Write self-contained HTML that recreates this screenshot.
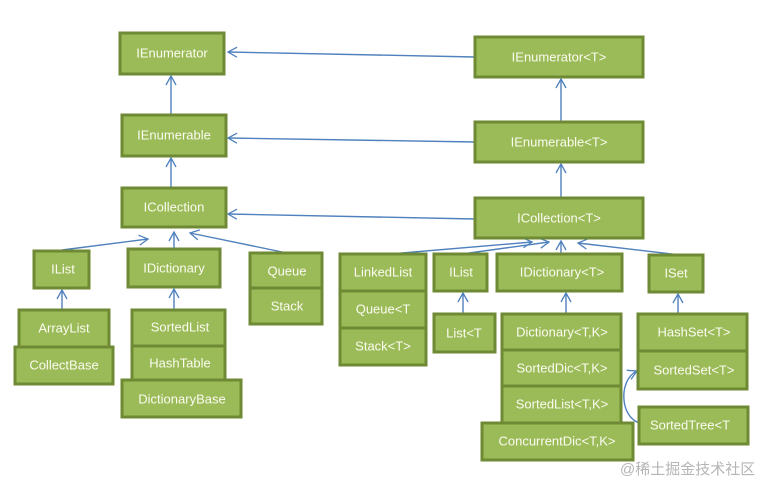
<!DOCTYPE html>
<html><head><meta charset="utf-8"><style>
html,body{margin:0;padding:0;background:#fff;}
svg text{font-family:"Liberation Sans","Noto Sans CJK SC",sans-serif;font-size:13px;fill:#fbfbef;}
</style></head><body>
<svg width="782" height="496" viewBox="0 0 782 496" xmlns="http://www.w3.org/2000/svg">
<defs>
<marker id="a" markerWidth="12" markerHeight="12" refX="10" refY="6" orient="auto" markerUnits="userSpaceOnUse">
<path d="M1,1 L10,6 L1,11" fill="none" stroke="#4f81bd" stroke-width="1.3"/>
</marker>
</defs>
<g stroke="#4f81bd" stroke-width="1.4" fill="none" marker-end="url(#a)">
<line x1="475" y1="57" x2="228" y2="52"/>
<line x1="475" y1="142" x2="228" y2="138"/>
<line x1="475" y1="219" x2="228" y2="214"/>
<line x1="171" y1="115" x2="171" y2="76"/>
<line x1="171" y1="188" x2="171" y2="158"/>
<line x1="561" y1="122" x2="561" y2="79"/>
<line x1="561" y1="198" x2="561" y2="164"/>
<line x1="62" y1="250" x2="148" y2="239"/>
<line x1="174" y1="249" x2="174" y2="232"/>
<line x1="287" y1="253" x2="190" y2="233"/>
<line x1="390" y1="254" x2="532" y2="242"/>
<line x1="462" y1="254" x2="549" y2="242"/>
<line x1="561" y1="254" x2="561" y2="241"/>
<line x1="680" y1="255" x2="578" y2="243"/>
<line x1="62" y1="310" x2="62" y2="290"/>
<line x1="174" y1="310" x2="174" y2="289"/>
<line x1="463" y1="314" x2="463" y2="293"/>
<line x1="566" y1="314" x2="566" y2="293"/>
<line x1="678" y1="314" x2="678" y2="294"/>
<path d="M640,423 C620,418 618,380 637,371"/>
</g>
<g fill="#9bbb59" stroke="#6f8a35" stroke-width="3">
<rect x="120" y="33" width="104" height="41"/>
<rect x="122" y="115" width="104" height="41"/>
<rect x="122" y="188" width="104" height="39"/>
<rect x="475" y="37" width="168" height="40"/>
<rect x="475" y="122" width="168" height="40"/>
<rect x="475" y="198" width="168" height="40"/>
<rect x="34" y="251" width="55" height="37"/>
<rect x="128" y="249" width="92" height="38"/>
<rect x="250" y="253" width="72" height="35"/>
<rect x="250" y="288" width="72" height="36"/>
<rect x="19" y="310" width="90" height="37"/>
<rect x="15" y="347" width="98" height="37"/>
<rect x="132" y="310" width="93" height="36"/>
<rect x="132" y="346" width="93" height="34"/>
<rect x="122" y="380" width="119" height="37"/>
<rect x="340" y="254" width="86" height="37"/>
<rect x="340" y="291" width="86" height="37"/>
<rect x="340" y="328" width="86" height="37"/>
<rect x="434" y="254" width="53" height="37"/>
<rect x="434" y="314" width="61" height="38"/>
<rect x="497" y="254" width="125" height="37"/>
<rect x="502" y="314" width="119" height="36"/>
<rect x="502" y="350" width="119" height="36"/>
<rect x="502" y="386" width="119" height="37"/>
<rect x="482" y="423" width="151" height="37"/>
<rect x="649" y="255" width="54" height="37"/>
<rect x="638" y="314" width="109" height="37"/>
<rect x="638" y="351" width="109" height="38"/>
<rect x="639" y="407" width="109" height="37"/>
</g>
<g text-anchor="middle" dominant-baseline="central">
<text x="172" y="53">IEnumerator</text>
<text x="174" y="135">IEnumerable</text>
<text x="174" y="207">ICollection</text>
<text x="559" y="57">IEnumerator&lt;T&gt;</text>
<text x="559" y="142">IEnumerable&lt;T&gt;</text>
<text x="559" y="218">ICollection&lt;T&gt;</text>
<text x="63" y="269">IList</text>
<text x="174" y="268">IDictionary</text>
<text x="287" y="271">Queue</text>
<text x="287" y="306">Stack</text>
<text x="64" y="328">ArrayList</text>
<text x="64" y="365">CollectBase</text>
<text x="180" y="327">SortedList</text>
<text x="180" y="363">HashTable</text>
<text x="182" y="399">DictionaryBase</text>
<text x="383" y="272">LinkedList</text>
<text x="383" y="309">Queue&lt;T</text>
<text x="383" y="346">Stack&lt;T&gt;</text>
<text x="461" y="272">IList</text>
<text x="464" y="333">List&lt;T</text>
<text x="562" y="272">IDictionary&lt;T&gt;</text>
<text x="562" y="332">Dictionary&lt;T,K&gt;</text>
<text x="562" y="368">SortedDic&lt;T,K&gt;</text>
<text x="562" y="404">SortedList&lt;T,K&gt;</text>
<text x="557" y="441">ConcurrentDic&lt;T,K&gt;</text>
<text x="676" y="273">ISet</text>
<text x="694" y="332">HashSet&lt;T&gt;</text>
<text x="694" y="370">SortedSet&lt;T&gt;</text>
<text x="690" y="425">SortedTree&lt;T</text>
</g>
<text x="620" y="474" style="fill:#b5b5b5;font-size:15px;">@稀土掘金技术社区</text>
</svg>
</body></html>
